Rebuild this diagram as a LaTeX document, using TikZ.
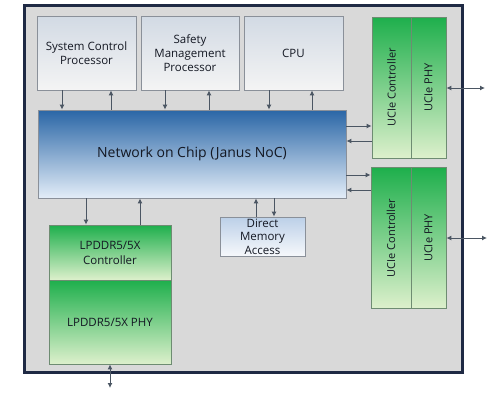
\documentclass[tikz,border=0pt]{standalone}
\usepackage{fontspec}
\setmainfont{Open Sans}
\usetikzlibrary{arrows.meta}

\definecolor{frameGray}{HTML}{D9D9D9}
\definecolor{frameLine}{HTML}{1F2A44}
\definecolor{boxLine}{HTML}{8A9099}
\definecolor{procTop}{HTML}{D2DAE4}
\definecolor{procBottom}{HTML}{F4F4F4}
\definecolor{nocTop}{HTML}{2A66A6}
\definecolor{nocBottom}{HTML}{E3EDF8}
\definecolor{dmaTop}{HTML}{BCD0E8}
\definecolor{dmaBottom}{HTML}{F6F8FB}
\definecolor{greenTop}{HTML}{1EAF4C}
\definecolor{greenBottom}{HTML}{DDF0CC}
\definecolor{greenLine}{HTML}{6E8C72}
\definecolor{arrowGray}{HTML}{4B5663}
\definecolor{textDark}{HTML}{141823}

\begin{document}
\begin{tikzpicture}
[x=1pt,y=-1pt,
  boxDecorate/.style={shape=rectangle,draw=boxLine,line width=0.8pt,align=center,
    text=textDark,inner sep=0pt},
  procDecorate/.style={boxDecorate,top color=procTop,bottom color=procBottom,
    font=\fontsize{11.5}{14}\selectfont},
  greenDecorate/.style={boxDecorate,draw=greenLine,top color=greenTop,bottom color=greenBottom,
    font=\fontsize{11.5}{15}\selectfont},
  arrowDecorate/.style={-{Latex[length=5pt,width=5pt]},line width=1pt,draw=arrowGray,fill=arrowGray},
  bothDecorate/.style={arrowDecorate,{Latex[length=5pt,width=5pt]}-{Latex[length=5pt,width=5pt]}}]
\useasboundingbox (0,0) rectangle (500,400);
%% chip outline
\node (chip) at (243.5,189) [shape=rectangle,draw=frameLine,line width=2.5pt,fill=frameGray,
  minimum width=438pt,minimum height=367pt] {};
%% processors on top
\foreach \nodename/\x/\w/\txt in {
  scp/86.5/99/{System Control\\Processor},
  smp/190/98/{Safety\\Management\\Processor},
  cpu/293.5/99/{CPU}}
{
  \node (\nodename) at (\x,53) [procDecorate,minimum width=\w pt,minimum height=74pt] {\txt};
}
%% network on chip
\node (noc) at (192,154) [boxDecorate,top color=nocTop,bottom color=nocBottom,
  minimum width=308pt,minimum height=88pt,font=\fontsize{14}{17}\selectfont] {Network on Chip (Janus NoC)};
\node (dma) at (262.5,236.5) [boxDecorate,top color=dmaTop,bottom color=dmaBottom,
  minimum width=85pt,minimum height=39pt,font=\fontsize{11.5}{13.5}\selectfont] {Direct\\Memory\\Access};
%% UCIe blocks
\foreach \nodename/\x/\y/\w/\txt in {
  ucc1/391.5/87.5/39/{UCIe Controller},
  ucp1/428.5/87.5/35/{UCIe PHY},
  ucc2/391/238/40/{UCIe Controller},
  ucp2/428.5/238/35/{UCIe PHY}}
{
  \node (\nodename) at (\x,\y) [greenDecorate,minimum width=\w pt,minimum height=141pt,
    font=\fontsize{11}{13}\selectfont] {\rotatebox{90}{\txt}};
}
%% LPDDR blocks
\node (ddrc) at (110,252.5) [greenDecorate,minimum width=122pt,minimum height=55pt] {LPDDR5/5X\\Controller};
\node (ddrp) at (110,322) [greenDecorate,minimum width=122pt,minimum height=84pt] {LPDDR5/5X PHY};
%% free ends outside the chip
\coordinate (out1) at (485,88);
\coordinate (out2) at (487,238);
\coordinate (out3) at (110,388);
%% edges or lines
\foreach \src/\dn/\up in {scp/62/111, smp/165/209, cpu/269/312}
{
  \draw[arrowDecorate] (\src.south -| \dn,0) -- (noc.north -| \dn,0);
  \draw[arrowDecorate] (noc.north -| \up,0) -- (\src.south -| \up,0);
}
\foreach \dst/\r/\l in {ucc1/126/141, ucc2/175/190}
{
  \draw[arrowDecorate] (noc.east |- 0,\r) -- (\dst.west |- 0,\r);
  \draw[arrowDecorate] (\dst.west |- 0,\l) -- (noc.east |- 0,\l);
}
\draw[arrowDecorate] (noc.south -| 86,0) -- (ddrc.north -| 86,0);
\draw[arrowDecorate] (ddrc.north -| 140,0) -- (noc.south -| 140,0);
\draw[arrowDecorate] (dma.north -| 256,0) -- (noc.south -| 256,0);
\draw[arrowDecorate] (noc.south -| 274,0) -- (dma.north -| 274,0);
\draw[bothDecorate] (ucp1.east |- out1) -- (out1);
\draw[bothDecorate] (ucp2.east |- out2) -- (out2);
\draw[bothDecorate] (ddrp.south) -- (out3);
\end{tikzpicture}
\end{document}
